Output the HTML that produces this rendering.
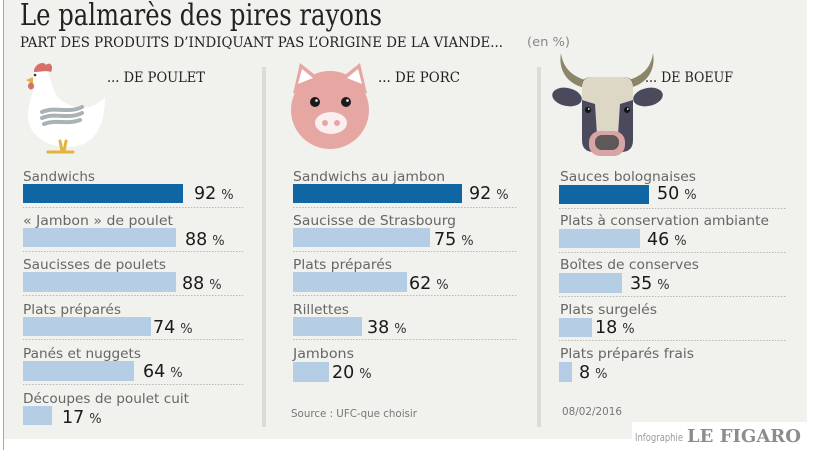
<!DOCTYPE html>
<html><head><meta charset="utf-8"><style>
html,body{margin:0;padding:0;background:#fff;}
svg{display:block;}
.lab{font-family:"DejaVu Sans","Liberation Sans",sans-serif;font-size:13.5px;fill:#666;}
.val{font-family:"DejaVu Sans","Liberation Sans",sans-serif;font-size:17.5px;fill:#1a1a1a;}
.pc{font-size:13px;fill:#333;}
.dot{stroke:#b9b9b5;stroke-width:1;stroke-dasharray:1.5 1.5;}
.hd{font-family:"DejaVu Serif","Liberation Serif",serif;font-size:13.5px;fill:#222;}
</style></head><body>
<svg width="823" height="450" viewBox="0 0 823 450" xmlns="http://www.w3.org/2000/svg">
<rect x="0" y="0" width="823" height="450" fill="#fff"/>
<rect x="4" y="0" width="803" height="439" fill="#f1f1ed"/>
<line x1="3.5" y1="0" x2="3.5" y2="450" stroke="#a9a9a9" stroke-width="1"/>
<rect x="632" y="422" width="175" height="28" fill="#fff"/>

<!-- title -->
<text x="20" y="25" font-family="DejaVu Serif, Liberation Serif, serif" font-size="30" fill="#222" textLength="362" lengthAdjust="spacingAndGlyphs">Le palmarès des pires rayons</text>
<text x="20" y="47" class="hd" textLength="483" lengthAdjust="spacingAndGlyphs">PART DES PRODUITS D’INDIQUANT PAS L’ORIGINE DE LA VIANDE...</text>
<text x="527" y="46" font-family="DejaVu Sans, Liberation Sans, sans-serif" font-size="12" fill="#888" textLength="43" lengthAdjust="spacingAndGlyphs">(en %)</text>

<!-- separators -->
<rect x="262" y="67" width="4" height="360" fill="#dcdcd6"/>
<rect x="537" y="67" width="4" height="360" fill="#dcdcd6"/>

<!-- headers -->
<text x="107" y="82" class="hd" textLength="98" lengthAdjust="spacingAndGlyphs">... DE POULET</text>
<text x="378" y="82" class="hd" textLength="82" lengthAdjust="spacingAndGlyphs">... DE PORC</text>
<text x="645" y="82" class="hd" textLength="88" lengthAdjust="spacingAndGlyphs">... DE BOEUF</text>

<!-- chicken -->
<g>
<path d="M36 80 C34 92,28 102,28 116 C28 136,48 147,68 147 C90 147,105 132,105 97 C97 106,86 110,72 106 C60 102,55 95,52 85 C50 74,38 70,36 80 Z" fill="#fff"/>
<circle cx="41" cy="79" r="9" fill="#fff"/>
<path d="M34 70 C36 63,44 61,46 65 C50 61,54 66,51 72 C47 70,40 72,34 72 Z" fill="#d5706a"/>
<path d="M26 80 L33 77 L33 84 Z" fill="#e2b53a"/>
<ellipse cx="31" cy="86" rx="3" ry="3.5" fill="#d5706a"/>
<circle cx="35" cy="75" r="1.3" fill="#333"/>
<path d="M42 112 C55 106,68 114,82 107 M42 118 C55 112,68 120,82 113 M44 124 C56 119,67 125,80 120" stroke="#a9b3b5" stroke-width="4" fill="none" stroke-linecap="round"/>
<path d="M60 141 L62 151 M66 141 L64 151 M48 152 L73 152" stroke="#e2b53a" stroke-width="3" fill="none" stroke-linecap="round"/>
</g>

<!-- pig -->
<g>
<path d="M293 94 L300 63 L320 79 Z" fill="#e6a6a2"/>
<path d="M367 94 L360 63 L340 79 Z" fill="#e6a6a2"/>
<circle cx="330" cy="110" r="39" fill="#e6a6a2"/>
<path d="M298 84 L302 69 L313 78 Z" fill="#fff"/>
<path d="M362 84 L358 69 L347 78 Z" fill="#fff"/>
<circle cx="315" cy="102" r="5" fill="#1a1a1a"/>
<circle cx="346" cy="102" r="5" fill="#1a1a1a"/>
<circle cx="316.5" cy="100.5" r="1.3" fill="#fff"/>
<circle cx="347.5" cy="100.5" r="1.3" fill="#fff"/>
<ellipse cx="331" cy="123" rx="16" ry="11" fill="#fbeeee"/>
<circle cx="325" cy="123" r="3" fill="#e6a6a2"/>
<circle cx="337" cy="123" r="3" fill="#e6a6a2"/>
</g>

<!-- cow -->
<g>
<path d="M585 88 C567 84,558 70,561 53 C563 68,572 77,589 81 Z" fill="#8b8667"/>
<path d="M629 88 C647 84,656 70,653 53 C651 68,642 77,625 81 Z" fill="#8b8667"/>
<ellipse cx="567" cy="97" rx="15" ry="9" fill="#4a4a5c" transform="rotate(12 567 97)"/>
<ellipse cx="648" cy="97" rx="15" ry="9" fill="#4a4a5c" transform="rotate(-12 648 97)"/>
<path d="M582 85 Q582 77 592 77 L623 77 Q633 77 633 85 L633 140 Q633 152 621 152 L594 152 Q582 152 582 140 Z" fill="#4a4a5c"/>
<path d="M582 100 L582 87 Q582 77 592 77 L623 77 Q633 77 633 87 L633 100 L620 104 L618 135 L597 135 L595 104 Z" fill="#ddd8c6"/>
<rect x="589" y="131" width="36" height="25" rx="11" fill="#d9a4a4"/>
<rect x="595" y="135" width="24" height="15" rx="7" fill="#5e5858"/>
<circle cx="588" cy="110" r="3" fill="#111"/>
<circle cx="627" cy="110" r="3" fill="#111"/>
<circle cx="588.8" cy="109" r="0.9" fill="#fff"/>
<circle cx="627.8" cy="109" r="0.9" fill="#fff"/>
</g>

<!-- column 1 -->
<g>
<text x="23" y="181" class="lab" textLength="72" lengthAdjust="spacingAndGlyphs">Sandwichs</text>
<rect x="23" y="184" width="160" height="19" fill="#0f66a3"/>
<text x="194" y="199" class="val">92<tspan class="pc" dx="5">%</tspan></text>
<line x1="23" y1="207.5" x2="243" y2="207.5" class="dot"/>

<text x="23" y="225" class="lab" textLength="150" lengthAdjust="spacingAndGlyphs">« Jambon » de poulet</text>
<rect x="23" y="228" width="153" height="19" fill="#b6cde6"/>
<text x="185" y="245" class="val">88<tspan class="pc" dx="5">%</tspan></text>
<line x1="23" y1="251.5" x2="243" y2="251.5" class="dot"/>

<text x="23" y="269" class="lab" textLength="143" lengthAdjust="spacingAndGlyphs">Saucisses de poulets</text>
<rect x="23" y="272" width="153" height="20" fill="#b6cde6"/>
<text x="182" y="289" class="val">88<tspan class="pc" dx="5">%</tspan></text>
<line x1="23" y1="295.5" x2="243" y2="295.5" class="dot"/>

<text x="23" y="314" class="lab" textLength="98" lengthAdjust="spacingAndGlyphs">Plats préparés</text>
<rect x="23" y="317" width="128" height="19" fill="#b6cde6"/>
<text x="153" y="333" class="val">74<tspan class="pc" dx="5">%</tspan></text>
<line x1="23" y1="339.5" x2="243" y2="339.5" class="dot"/>

<text x="23" y="358" class="lab" textLength="118" lengthAdjust="spacingAndGlyphs">Panés et nuggets</text>
<rect x="23" y="361" width="111" height="20" fill="#b6cde6"/>
<text x="143" y="377" class="val">64<tspan class="pc" dx="5">%</tspan></text>
<line x1="23" y1="384.5" x2="243" y2="384.5" class="dot"/>

<text x="23" y="403" class="lab" textLength="166" lengthAdjust="spacingAndGlyphs">Découpes de poulet cuit</text>
<rect x="23" y="406" width="29" height="19" fill="#b6cde6"/>
<text x="62" y="423" class="val">17<tspan class="pc" dx="5">%</tspan></text>
</g>

<!-- column 2 -->
<g>
<text x="293" y="181" class="lab" textLength="152" lengthAdjust="spacingAndGlyphs">Sandwichs au jambon</text>
<rect x="293" y="184" width="169" height="19" fill="#0f66a3"/>
<text x="469" y="199" class="val">92<tspan class="pc" dx="5">%</tspan></text>
<line x1="293" y1="207.5" x2="518" y2="207.5" class="dot"/>

<text x="293" y="225" class="lab" textLength="163" lengthAdjust="spacingAndGlyphs">Saucisse de Strasbourg</text>
<rect x="293" y="228" width="137" height="19" fill="#b6cde6"/>
<text x="434" y="245" class="val">75<tspan class="pc" dx="5">%</tspan></text>
<line x1="293" y1="251.5" x2="518" y2="251.5" class="dot"/>

<text x="293" y="269" class="lab" textLength="99" lengthAdjust="spacingAndGlyphs">Plats préparés</text>
<rect x="293" y="272" width="114" height="20" fill="#b6cde6"/>
<text x="409" y="289" class="val">62<tspan class="pc" dx="5">%</tspan></text>
<line x1="293" y1="295.5" x2="518" y2="295.5" class="dot"/>

<text x="293" y="314" class="lab" textLength="56" lengthAdjust="spacingAndGlyphs">Rillettes</text>
<rect x="293" y="317" width="69" height="19" fill="#b6cde6"/>
<text x="367" y="333" class="val">38<tspan class="pc" dx="5">%</tspan></text>
<line x1="293" y1="339.5" x2="518" y2="339.5" class="dot"/>

<text x="293" y="358" class="lab" textLength="61" lengthAdjust="spacingAndGlyphs">Jambons</text>
<rect x="293" y="362" width="36" height="20" fill="#b6cde6"/>
<text x="332" y="378" class="val">20<tspan class="pc" dx="5">%</tspan></text>

<text x="291" y="417" font-family="DejaVu Sans, Liberation Sans, sans-serif" font-size="11" fill="#777" textLength="126" lengthAdjust="spacingAndGlyphs">Source : UFC-que choisir</text>
</g>

<!-- column 3 -->
<g>
<text x="560" y="181" class="lab" textLength="136" lengthAdjust="spacingAndGlyphs">Sauces bolognaises</text>
<rect x="559" y="185" width="90" height="19" fill="#0f66a3"/>
<text x="657" y="199" class="val">50<tspan class="pc" dx="5">%</tspan></text>
<line x1="559" y1="208.5" x2="787" y2="208.5" class="dot"/>

<text x="560" y="225" class="lab" textLength="209" lengthAdjust="spacingAndGlyphs">Plats à conservation ambiante</text>
<rect x="559" y="229" width="81" height="19" fill="#b6cde6"/>
<text x="647" y="245" class="val">46<tspan class="pc" dx="5">%</tspan></text>
<line x1="559" y1="252.5" x2="787" y2="252.5" class="dot"/>

<text x="560" y="269" class="lab" textLength="139" lengthAdjust="spacingAndGlyphs">Boîtes de conserves</text>
<rect x="559" y="273" width="63" height="20" fill="#b6cde6"/>
<text x="630" y="289" class="val">35<tspan class="pc" dx="5">%</tspan></text>
<line x1="559" y1="296.5" x2="787" y2="296.5" class="dot"/>

<text x="560" y="314" class="lab" textLength="97" lengthAdjust="spacingAndGlyphs">Plats surgelés</text>
<rect x="559" y="318" width="33" height="19" fill="#b6cde6"/>
<text x="595" y="333" class="val">18<tspan class="pc" dx="5">%</tspan></text>
<line x1="559" y1="340.5" x2="787" y2="340.5" class="dot"/>

<text x="560" y="358" class="lab" textLength="134" lengthAdjust="spacingAndGlyphs">Plats préparés frais</text>
<rect x="559" y="362" width="13" height="20" fill="#b6cde6"/>
<text x="579" y="378" class="val">8<tspan class="pc" dx="5">%</tspan></text>

<text x="562" y="415" font-family="DejaVu Sans, Liberation Sans, sans-serif" font-size="11" fill="#777" textLength="60" lengthAdjust="spacingAndGlyphs">08/02/2016</text>
</g>

<!-- credit -->
<text x="635" y="441" font-family="DejaVu Sans, Liberation Sans, sans-serif" font-size="11" fill="#9a9a9a" textLength="48" lengthAdjust="spacingAndGlyphs">Infographie</text>
<text x="687" y="442" font-family="DejaVu Serif, Liberation Serif, serif" font-weight="bold" font-size="18" fill="#8c8c8c" textLength="114" lengthAdjust="spacingAndGlyphs">LE FIGARO</text>
</svg>
</body></html>
